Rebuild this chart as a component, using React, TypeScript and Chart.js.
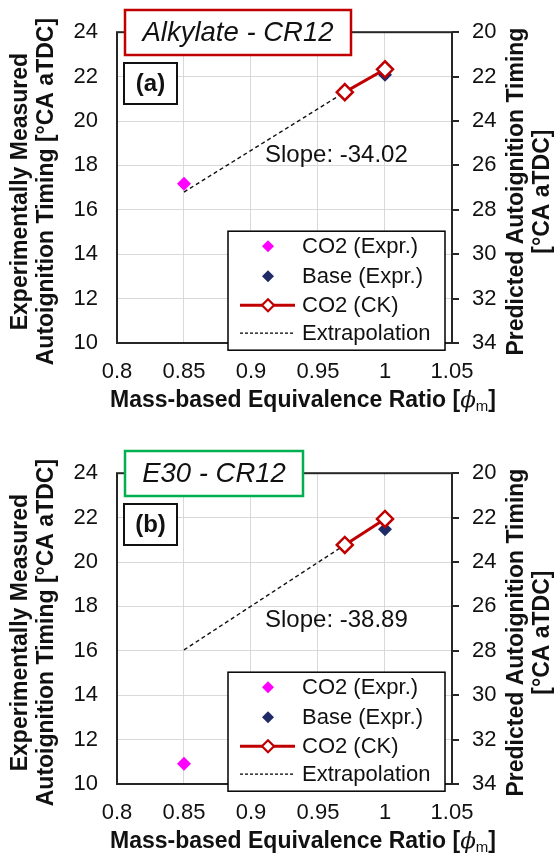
import React, { useEffect, useRef } from 'react';
import { Chart, registerables } from 'chart.js';

Chart.register(...registerables);

const FONT = "'Liberation Sans', Arial, sans-serif";

// ---- shared axes ----
const xTickValues = [0.8, 0.85, 0.9, 0.95, 1, 1.05];
const leftTickValues = [10, 12, 14, 16, 18, 20, 22, 24];
const rightTickValues = [20, 22, 24, 26, 28, 30, 32, 34];
const legendLabels = ['CO2 (Expr.)', 'Base (Expr.)', 'CO2 (CK)', 'Extrapolation'];

// ---- panel (a) Alkylate - CR12 ----
const aCO2ExprPhi = [0.85];
const aCO2ExprTiming = [17.17];
const aBaseExprPhi = [1.0];
const aBaseExprTiming = [22.08];
const aCO2CKPhi = [0.97, 1.0];
const aCO2CKTiming = [22.7, 21.67];
const aExtrapPhi = [0.85, 0.97];
const aExtrapTiming = [27.2, 22.7];

// ---- panel (b) E30 - CR12 ----
const bCO2ExprPhi = [0.85];
const bCO2ExprTiming = [10.91];
const bBaseExprPhi = [1.0];
const bBaseExprTiming = [21.48];
const bCO2CKPhi = [0.97, 1.0];
const bCO2CKTiming = [23.23, 22.06];
const bExtrapPhi = [0.85, 0.97];
const bExtrapTiming = [27.96, 23.23];

const MAGENTA = '#FF00FF';
const NAVY = '#1F2A66';
const RED = '#C00000';

function pts(xs: number[], ys: number[]) {
  return xs.map((x, i) => ({ x, y: ys[i] }));
}

function diamond(ctx: CanvasRenderingContext2D, x: number, y: number, r: number) {
  ctx.beginPath();
  ctx.moveTo(x, y - r);
  ctx.lineTo(x + r, y);
  ctx.lineTo(x, y + r);
  ctx.lineTo(x - r, y);
  ctx.closePath();
}

type PanelProps = {
  height: number;
  title: string;
  titleColor: string;
  titleBoxWidth: number;
  tag: string;
  slope: string;
  slopeY: number;
  co2Phi: number[];
  co2T: number[];
  basePhi: number[];
  baseT: number[];
  ckPhi: number[];
  ckT: number[];
  exPhi: number[];
  exT: number[];
};

function Panel(p: PanelProps) {
  const ref = useRef<HTMLCanvasElement>(null);
  useEffect(() => {
    const canvas = ref.current!;
    const H = p.height;
    const deco = {
      id: 'deco',
      beforeDatasetsDraw(chart: any) {
        const { ctx, chartArea } = chart;
        const { left, top, right, bottom } = chartArea;
        ctx.save();
        ctx.strokeStyle = '#262626';
        ctx.lineWidth = 2;
        ctx.strokeRect(left, top, right - left, bottom - top);
        ctx.restore();
      },
      afterDatasetsDraw(chart: any) {
        const { ctx, chartArea } = chart;
        const { left, top, right, bottom } = chartArea;
        ctx.save();
        // legend
        const lx = left + 111;
        const ly = top + 199;
        const lw = 217;
        const lh = 119;
        ctx.fillStyle = '#fff';
        ctx.fillRect(lx, ly, lw, lh);
        ctx.strokeStyle = '#000';
        ctx.lineWidth = 1.5;
        ctx.strokeRect(lx, ly, lw, lh);
        const rows = [15, 45, 74, 102];
        ctx.font = `22px ${FONT}`;
        ctx.textBaseline = 'middle';
        ctx.textAlign = 'left';
        legendLabels.forEach((lab, i) => {
          const ry = ly + rows[i];
          const mx = lx + 40;
          if (i === 0 || i === 1) {
            diamond(ctx, mx, ry, 6);
            ctx.fillStyle = i === 0 ? MAGENTA : NAVY;
            ctx.fill();
          } else if (i === 2) {
            ctx.strokeStyle = RED;
            ctx.lineWidth = 3;
            ctx.beginPath();
            ctx.moveTo(lx + 12, ry);
            ctx.lineTo(lx + 67, ry);
            ctx.stroke();
            diamond(ctx, mx, ry, 6);
            ctx.fillStyle = '#fff';
            ctx.fill();
            ctx.lineWidth = 2.2;
            ctx.stroke();
          } else {
            ctx.strokeStyle = '#000';
            ctx.lineWidth = 1.3;
            ctx.setLineDash([3, 2]);
            ctx.beginPath();
            ctx.moveTo(lx + 12, ry);
            ctx.lineTo(lx + 67, ry);
            ctx.stroke();
            ctx.setLineDash([]);
          }
          ctx.fillStyle = '#111';
          ctx.fillText(lab, lx + 74, ry + 1);
        });
        // title box
        ctx.fillStyle = '#fff';
        ctx.fillRect(125, 10, p.titleBoxWidth, 45);
        ctx.strokeStyle = p.titleColor;
        ctx.lineWidth = 2.5;
        ctx.strokeRect(125, 10, p.titleBoxWidth, 45);
        ctx.fillStyle = '#111';
        ctx.font = `italic 27.5px ${FONT}`;
        ctx.textAlign = 'center';
        ctx.fillText(p.title, 125 + p.titleBoxWidth / 2, 33);
        // tag box
        ctx.fillStyle = '#fff';
        ctx.fillRect(124, 63, 53, 41);
        ctx.strokeStyle = '#111';
        ctx.lineWidth = 2;
        ctx.strokeRect(124, 63, 53, 41);
        ctx.fillStyle = '#111';
        ctx.font = `bold 24px ${FONT}`;
        ctx.fillText(p.tag, 150.5, 84.5);
        // slope
        ctx.font = `24px ${FONT}`;
        ctx.textAlign = 'left';
        ctx.fillText(p.slope, 265, p.slopeY);
        // y titles
        const cy = (top + bottom) / 2 + 4;
        const vtext = (txt: string, x: number) => {
          ctx.save();
          ctx.translate(x, cy);
          ctx.rotate(-Math.PI / 2);
          ctx.textAlign = 'center';
          ctx.textBaseline = 'middle';
          ctx.font = `bold 23px ${FONT}`;
          ctx.fillStyle = '#111';
          ctx.fillText(txt, 0, 0);
          ctx.restore();
        };
        vtext('Experimentally Measured', 21);
        vtext('Autoignition Timing [°CA aTDC]', 47);
        vtext('Predicted Autoignition Timing', 517);
        vtext('[°CA aTDC]', 543);
        // x title with subscript
        const segs = [
          { t: 'Mass-based Equivalence Ratio [', f: `bold 23px ${FONT}`, dy: 0 },
          { t: 'ϕ', f: `italic 23px 'DejaVu Serif', serif`, dy: 0 },
          { t: 'm', f: `15px ${FONT}`, dy: 6 },
          { t: ']', f: `bold 23px ${FONT}`, dy: 0 },
        ];
        let total = 0;
        const widths = segs.map((s) => {
          ctx.font = s.f;
          const w = ctx.measureText(s.t).width;
          total += w;
          return w;
        });
        let x0 = 303 - total / 2;
        const ty = bottom + 58;
        ctx.textAlign = 'left';
        ctx.textBaseline = 'middle';
        segs.forEach((s, i) => {
          ctx.font = s.f;
          ctx.fillText(s.t, x0, ty + s.dy);
          x0 += widths[i];
        });
        ctx.restore();
      },
    };

    const tickFont = { family: FONT, size: 22 };
    const chart = new Chart(canvas, {
      type: 'scatter',
      data: {
        datasets: [
          {
            label: legendLabels[0],
            data: pts(p.co2Phi, p.co2T),
            yAxisID: 'yL',
            pointStyle: 'rectRot',
            pointRadius: 7,
            backgroundColor: MAGENTA,
            borderColor: MAGENTA,
            borderWidth: 0,
            order: 1,
          },
          {
            label: legendLabels[1],
            data: pts(p.basePhi, p.baseT),
            yAxisID: 'yL',
            pointStyle: 'rectRot',
            pointRadius: 7,
            backgroundColor: NAVY,
            borderColor: NAVY,
            borderWidth: 0,
            order: 2,
          },
          {
            label: legendLabels[2],
            data: pts(p.ckPhi, p.ckT),
            yAxisID: 'yR',
            showLine: true,
            borderColor: RED,
            borderWidth: 3,
            pointStyle: 'rectRot',
            pointRadius: 8,
            pointBackgroundColor: '#fff',
            pointBorderColor: RED,
            pointBorderWidth: 2.5,
            order: 0,
          },
          {
            label: legendLabels[3],
            data: pts(p.exPhi, p.exT),
            yAxisID: 'yR',
            showLine: true,
            borderColor: '#111',
            borderWidth: 1.4,
            borderDash: [4, 3],
            pointRadius: 0,
            order: 3,
          },
        ],
      } as any,
      options: {
        animation: false,
        responsive: false,
        devicePixelRatio: 1,
        layout: { padding: { top: 17, left: 0, right: 0, bottom: 0 } },
        plugins: { legend: { display: false }, tooltip: { enabled: false } },
        scales: {
          x: {
            type: 'linear',
            min: 0.8,
            max: 1.05,
            afterBuildTicks: (s: any) => {
              s.ticks = xTickValues.map((v) => ({ value: v }));
            },
            afterFit: (s: any) => {
              s.height = H - 343;
            },
            ticks: { font: tickFont, color: '#111', padding: 16, callback: (v: any) => String(v) },
            grid: { color: '#D9D9D9', lineWidth: 1, drawTicks: false },
            border: { display: false },
          },
          yL: {
            type: 'linear',
            position: 'left',
            min: 10,
            max: 24,
            afterBuildTicks: (s: any) => {
              s.ticks = leftTickValues.map((v) => ({ value: v }));
            },
            afterFit: (s: any) => {
              s.width = 117;
            },
            ticks: { font: tickFont, color: '#111', padding: 19 },
            grid: { color: '#D9D9D9', lineWidth: 1, drawTicks: false },
            border: { display: false },
          },
          yR: {
            type: 'linear',
            position: 'right',
            reverse: true,
            min: 20,
            max: 34,
            afterBuildTicks: (s: any) => {
              s.ticks = rightTickValues.map((v) => ({ value: v }));
            },
            afterFit: (s: any) => {
              s.width = 559 - 452;
            },
            ticks: { font: tickFont, color: '#111', padding: 13 },
            grid: { drawOnChartArea: false, drawTicks: true, tickLength: 7, color: '#262626', lineWidth: 2 },
            border: { display: false },
          },
        },
      } as any,
      plugins: [deco],
    });
    return () => chart.destroy();
  }, []);
  return (
    <canvas
      ref={ref}
      width={559}
      height={p.height}
      style={{ display: 'block', width: 559, height: p.height }}
    />
  );
}

export default function App() {
  return (
    <div style={{ position: 'absolute', left: 0, top: 0, width: 559, height: 865, background: '#fff' }}>
      <Panel
        height={441}
        title="Alkylate - CR12"
        titleColor={RED}
        titleBoxWidth={226}
        tag="(a)"
        slope="Slope: -34.02"
        slopeY={155}
        co2Phi={aCO2ExprPhi}
        co2T={aCO2ExprTiming}
        basePhi={aBaseExprPhi}
        baseT={aBaseExprTiming}
        ckPhi={aCO2CKPhi}
        ckT={aCO2CKTiming}
        exPhi={aExtrapPhi}
        exT={aExtrapTiming}
      />
      <Panel
        height={424}
        title="E30 - CR12"
        titleColor="#00B050"
        titleBoxWidth={178}
        tag="(b)"
        slope="Slope: -38.89"
        slopeY={179}
        co2Phi={bCO2ExprPhi}
        co2T={bCO2ExprTiming}
        basePhi={bBaseExprPhi}
        baseT={bBaseExprTiming}
        ckPhi={bCO2CKPhi}
        ckT={bCO2CKTiming}
        exPhi={bExtrapPhi}
        exT={bExtrapTiming}
      />
    </div>
  );
}
